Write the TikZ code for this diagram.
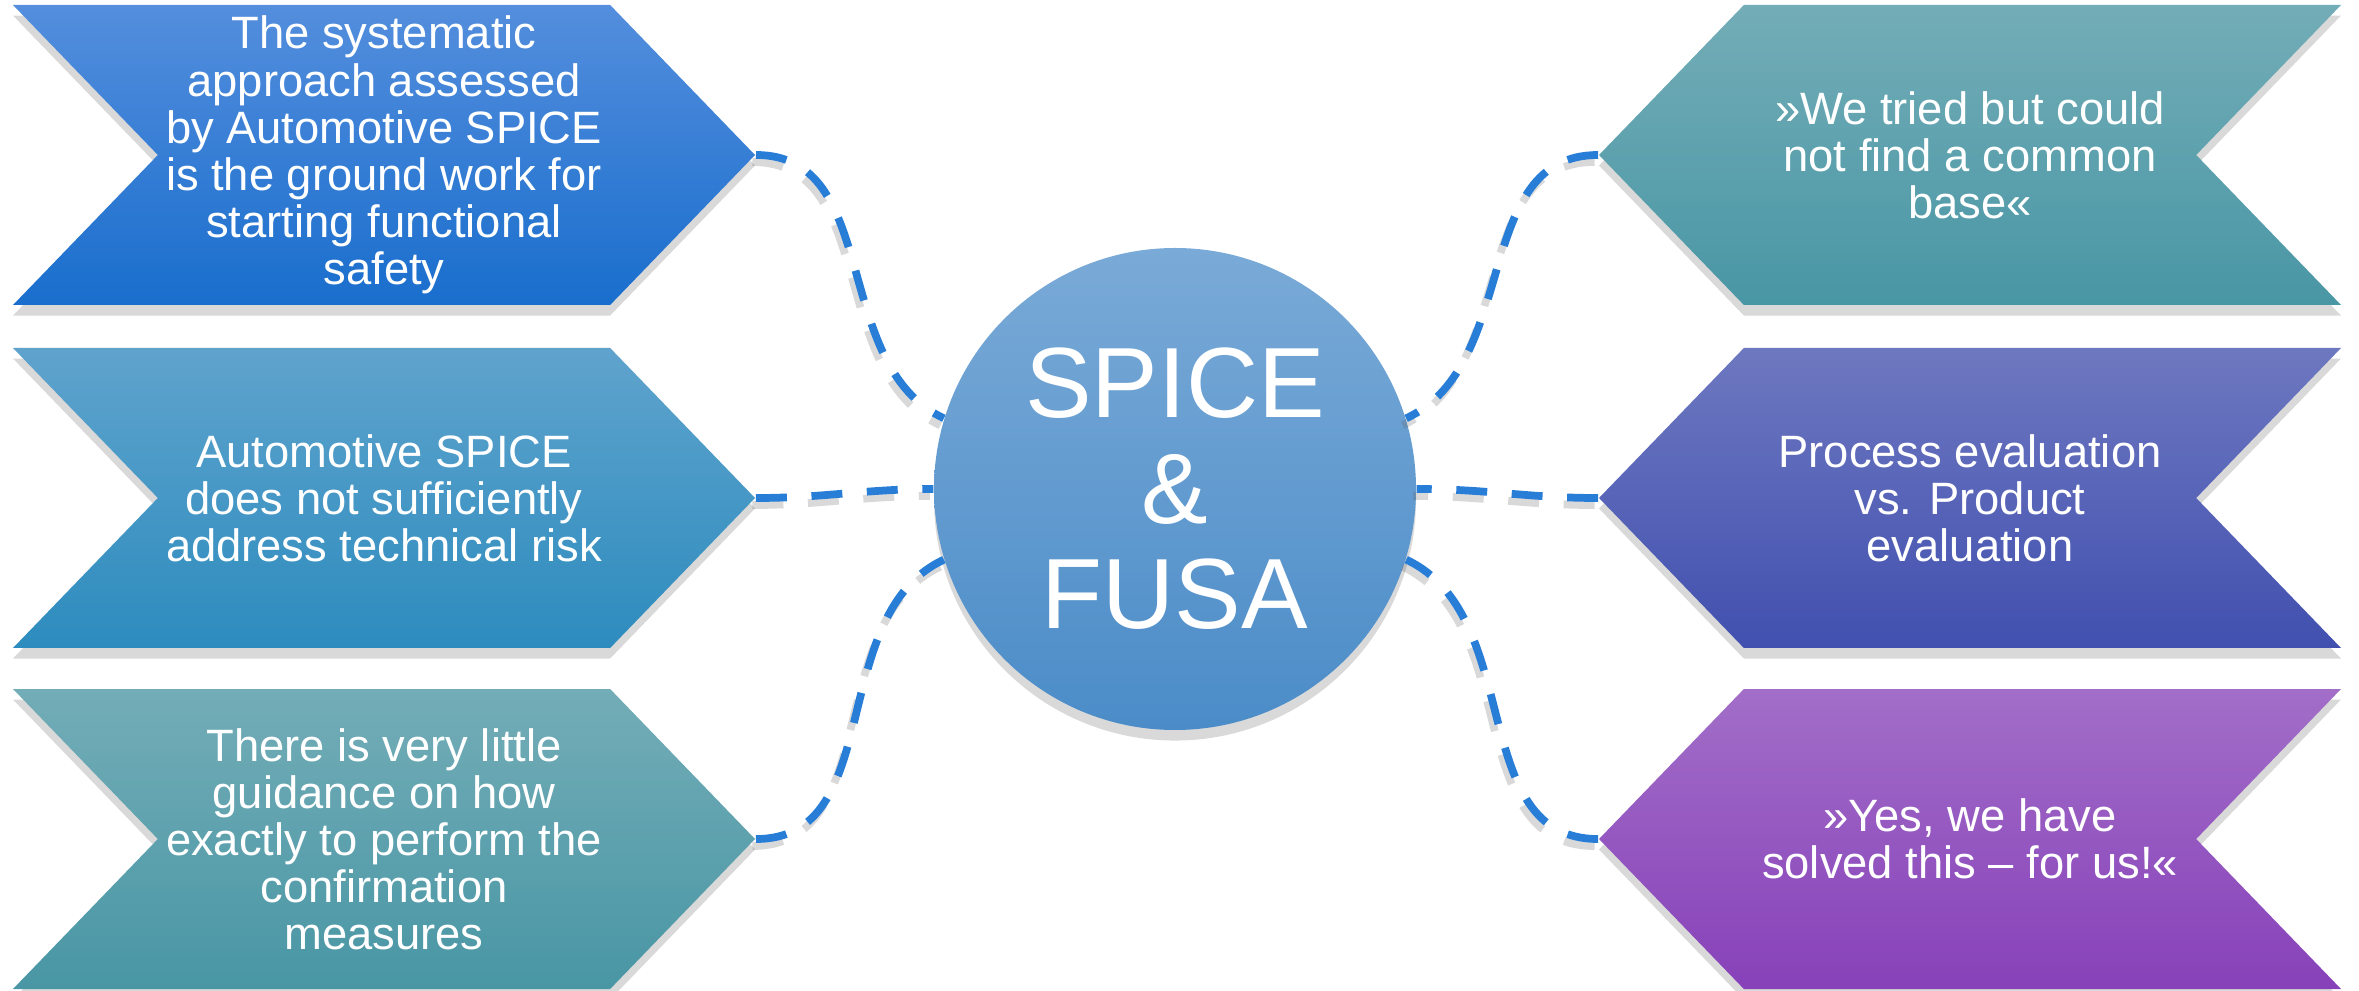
\documentclass[tikz,border=0pt]{standalone}
\usepackage{fontspec}
\setmainfont{Liberation Sans}
\usetikzlibrary{shapes.symbols,shadows}

\definecolor{linkblue}{RGB}{40,125,215}
\definecolor{blueA}{RGB}{84,142,221}   \definecolor{blueB}{RGB}{25,110,205}
\definecolor{skyA}{RGB}{95,163,205}    \definecolor{skyB}{RGB}{45,140,190}
\definecolor{tealA}{RGB}{115,173,183}  \definecolor{tealB}{RGB}{73,150,165}
\definecolor{indA}{RGB}{110,120,192}   \definecolor{indB}{RGB}{65,80,175}
\definecolor{violA}{RGB}{162,110,200}  \definecolor{violB}{RGB}{135,65,185}
\definecolor{hubA}{RGB}{122,170,215}   \definecolor{hubB}{RGB}{75,140,200}

\tikzset{
  chev/.style={signal, signal pointer angle=92, minimum width=7.42cm,
    minimum height=3cm, inner sep=0pt, text=white, align=center,
    font=\fontsize{12.9}{13.4}\selectfont,
    drop shadow={shadow xshift=0pt, shadow yshift=-3pt, opacity=.3}},
  chevL/.style={chev, signal from=west, signal to=east},
  chevR/.style={chev, signal from=east, signal to=west},
  hub/.style={circle, minimum size=4.82cm, inner sep=0pt, text=white,
    align=center, font=\fontsize{28.4}{30}\selectfont,
    top color=hubA, bottom color=hubB,
    drop shadow={shadow xshift=0pt, shadow yshift=-3pt, opacity=.3}},
  dashes/.style={line width=2.2pt, dash pattern=on 8.8pt off 7pt},
  link/.style={dashes, linkblue,
    preaction={draw=black!60, dashes, opacity=.25,
      transform canvas={xshift=-1pt, yshift=-2pt}}},
}

\begin{document}
\begin{tikzpicture}
  \useasboundingbox (0,0) rectangle (23.59,-9.91);
  % left side
  \node[chevL, top color=blueA, bottom color=blueB] (l1) at (3.84,-1.55)
    {The systematic\\approach assessed\\by Automotive SPICE\\is the ground work for\\starting functional\\safety};
  \node[chevL, top color=skyA, bottom color=skyB] (l2) at (3.84,-4.98)
    {Automotive SPICE\\does not sufficiently\\address technical risk};
  \node[chevL, top color=tealA, bottom color=tealB] (l3) at (3.84,-8.39)
    {There is very little\\guidance on how\\exactly to perform the\\confirmation\\measures};
  % right side
  \node[chevR, top color=tealA, bottom color=tealB] (r1) at (19.70,-1.55)
    {»We tried but could\\not find a common\\base«};
  \node[chevR, top color=indA, bottom color=indB] (r2) at (19.70,-4.98)
    {Process evaluation\\vs. Product\\evaluation};
  \node[chevR, top color=violA, bottom color=violB] (r3) at (19.70,-8.39)
    {»Yes, we have\\solved this – for us!«};
  % centre
  \node[hub] (hub) at (11.75,-4.89) {SPICE\\\&\\FUSA};
  % links
  \draw[link] (l1.east) to[out=0, in=155] (hub.163);
  \draw[link] (l2.east) to[out=0, in=180] (hub.west);
  \draw[link] (l3.east) to[out=0, in=-155] (hub.197);
  \draw[link] (r1.west) to[out=180, in=25] (hub.17);
  \draw[link] (r2.west) to[out=180, in=0] (hub.east);
  \draw[link] (r3.west) to[out=180, in=-25] (hub.-17);
\end{tikzpicture}
\end{document}
